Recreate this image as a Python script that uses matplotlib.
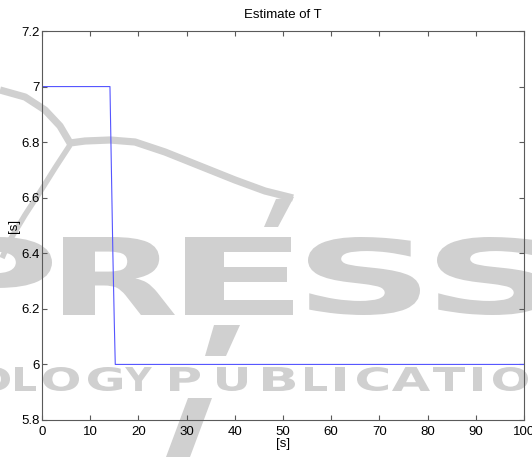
import matplotlib
matplotlib.use("Agg")
import matplotlib.pyplot as plt
from matplotlib.textpath import TextPath
from matplotlib.patches import PathPatch, Polygon
from matplotlib.font_manager import FontProperties
from matplotlib.transforms import Affine2D
from matplotlib.lines import Line2D
from matplotlib.ticker import FormatStrFormatter

# ---------------------------
# DATOS
# ---------------------------

tiempo = [0, 14.1, 14.4, 14.7, 15.0, 15.2, 100]
estimado_T = [7.0, 7.0, 6.7, 6.4, 6.15, 6.0, 6.0]

x_ticks = [0, 10, 20, 30, 40, 50, 60, 70, 80, 90, 100]
y_ticks = [5.8, 6.0, 6.2, 6.4, 6.6, 6.8, 7.0, 7.2]

# ---------------------------
# CONFIGURACIÓN
# ---------------------------

W_PX, H_PX, DPI = 532, 457, 100
GRIS_MARCA = "#d0d0d0"
GRIS_EJE = "#5a5a5a"

plt.rcParams["font.family"] = ["Liberation Sans", "DejaVu Sans"]

fig = plt.figure(figsize=(W_PX / DPI, H_PX / DPI), dpi=DPI)
fig.patch.set_facecolor("white")

# transformacion de pixeles (y hacia abajo) a coordenadas de la figura
def trans_px():
    return (Affine2D().scale(1, -1).translate(0, H_PX).scale(1 / DPI)
            + fig.dpi_scale_trans)

fuente_marca = FontProperties(family="DejaVu Sans", weight="bold")

def letra(ch, x0, x1, ytop, ybot):
    path = TextPath((0, 0), ch, size=100, prop=fuente_marca)
    ext = path.get_extents()
    sx = (x1 - x0) / ext.width
    sy = (ybot - ytop) / ext.height
    aff = (Affine2D().translate(-ext.x0, -ext.y0).scale(sx, sy)
           .translate(x0, H_PX - ybot).scale(1 / DPI) + fig.dpi_scale_trans)
    fig.add_artist(PathPatch(path, facecolor=GRIS_MARCA, edgecolor="none",
                             transform=aff, zorder=-5))

# fondo: marca de agua
for ch, a, b in [("P", -60, 52), ("R", 63, 175), ("E", 185, 293),
                 ("S", 308, 420), ("S", 437, 549)]:
    letra(ch, a, b, 237, 315)

for ch, a, b in [("O", -25, 10), ("L", 15, 36), ("O", 43, 79), ("G", 88, 122),
                 ("Y", 125, 152), ("P", 170, 200), ("U", 217, 247),
                 ("B", 263, 295), ("L", 305, 327), ("I", 335, 345),
                 ("C", 357, 388), ("A", 392, 430), ("T", 433, 465),
                 ("I", 473, 482), ("O", 493, 528), ("N", 535, 570)]:
    letra(ch, a, b, 367, 391)

arco_sup = [(0, 90), (25, 97), (45, 110), (60, 126), (70, 143), (85, 141),
            (110, 140), (135, 142), (165, 152), (200, 166), (235, 180),
            (265, 191), (293, 198)]
arco_inf = [(70, 145), (55, 168), (40, 192), (25, 215), (10, 240), (2, 258)]
for pts, ancho in ((arco_sup, 5.2), (arco_inf, 4.0)):
    xs, ys = zip(*pts)
    fig.add_artist(Line2D(xs, ys, color=GRIS_MARCA, lw=ancho,
                          solid_capstyle="butt", transform=trans_px(), zorder=-5))

for poly in [[(276, 199), (294, 197), (278, 227), (264, 227)],
             [(214, 325), (240, 325), (226, 356), (205, 356)],
             [(188, 398), (212, 398), (190, 457), (166, 457)]]:
    fig.add_artist(Polygon(poly, closed=True, facecolor=GRIS_MARCA,
                           edgecolor="none", transform=trans_px(), zorder=-5))

# ---------------------------
# GRÁFICO
# ---------------------------

ax = fig.add_axes([42 / W_PX, (H_PX - 420) / H_PX, 482 / W_PX, 389 / H_PX])
ax.set_facecolor("none")

ax.plot(tiempo, estimado_T, color="#5555ff", lw=0.8)

ax.set_xlim(0, 100)
ax.set_ylim(5.8, 7.2)
ax.set_xticks(x_ticks)
ax.set_yticks(y_ticks)
ax.yaxis.set_major_formatter(FormatStrFormatter("%g"))

ax.tick_params(direction="in", top=True, right=True, length=3.5, width=0.8,
               color=GRIS_EJE, labelsize=9.5, labelcolor="black")
ax.tick_params(axis="x", pad=4)
ax.tick_params(axis="y", pad=1.5)
for sp in ax.spines.values():
    sp.set_color(GRIS_EJE)
    sp.set_linewidth(0.8)

ax.set_title("Estimate of T", fontsize=9.5, pad=9)
ax.set_xlabel("[s]", fontsize=9.5, labelpad=0.5)
ax.set_ylabel("[s]", fontsize=9.5, labelpad=1)

fig.savefig("out.png", dpi=DPI)
